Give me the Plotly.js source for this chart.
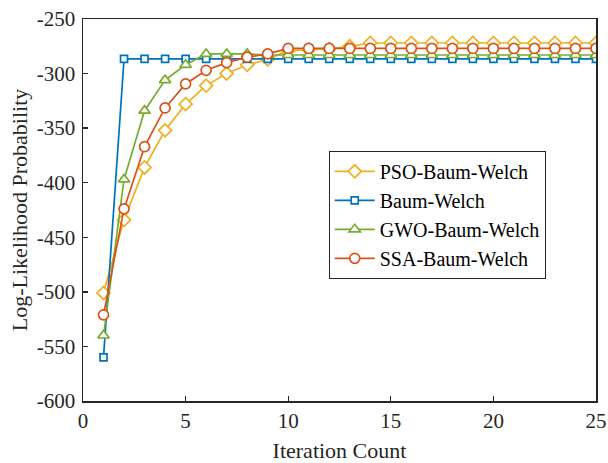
<!DOCTYPE html>
<html>
<head>
<meta charset="utf-8">
<script src="https://cdn.plot.ly/plotly-3.0.1.min.js"></script>
<style>html,body{margin:0;padding:0;background:#fff;}#chart{width:608px;height:463px;}</style>
</head>
<body>
<div id="chart"></div>
<script>
const iterations = [1,2,3,4,5,6,7,8,9,10,11,12,13,14,15,16,17,18,19,20,21,22,23,24,25];
const psoBW = [-501,-434,-386,-352,-328,-311,-300,-292,-287,-279,-278,-277.5,-275,-272,-272,-272,-272,-272,-272,-272,-272,-272,-272,-272,-272];
const baumWelch = [-560,-286.5,-286.5,-286.5,-286.5,-286.5,-286.5,-286.5,-286.5,-286.5,-286.5,-286.5,-286.5,-286.5,-286.5,-286.5,-286.5,-286.5,-286.5,-286.5,-286.5,-286.5,-286.5,-286.5,-286.5];
const gwoBW = [-540,-397,-334,-306,-292,-282,-282,-282,-283,-283,-283,-283,-283,-283,-283,-283,-283,-283,-283,-283,-283,-283,-283,-283,-283];
const ssaBW = [-521,-424,-367,-331.5,-309.5,-297,-290,-285,-282,-277,-277,-277,-277,-277,-277,-277,-277,-277,-277,-277,-277,-277,-277,-277,-277];
const seriesNames = ["PSO-Baum-Welch","Baum-Welch","GWO-Baum-Welch","SSA-Baum-Welch"];
const xTickVals = [0,5,10,15,20,25];
const xTickText = ["0","5","10","15","20","25"];
const yTickVals = [-600,-550,-500,-450,-400,-350,-300,-250];
const yTickText = ["-600","-550","-500","-450","-400","-350","-300","-250"];

const colors = ["#EDB120","#0072BD","#77AC30","#D95319"];
const symbols = ["diamond","square","triangle-up","circle"];
const sizes = [10,7,10,10];
const allY = [psoBW, baumWelch, gwoBW, ssaBW];

const traces = allY.map((ys,i)=>({
  x: iterations, y: ys, name: seriesNames[i], type:'scatter', mode:'lines+markers',
  line:{color:colors[i], width:1.7},
  marker:{symbol:symbols[i], size:sizes[i], color:'#ffffff', line:{color:colors[i], width:1.7}}
}));

const fontFam = 'Liberation Serif';
const layout = {
  width:608, height:463,
  margin:{l:83, r:12, t:19, b:62},
  paper_bgcolor:'#fff', plot_bgcolor:'#fff',
  font:{family:fontFam, size:21, color:'#262626'},
  showlegend:true,
  legend:{x:0.479, y:0.655, xanchor:'left', yanchor:'top', bgcolor:'#fff',
    bordercolor:'#262626', borderwidth:1, font:{family:fontFam, size:20, color:'#000'},
    itemwidth:40, entrywidth:196, entrywidthmode:'pixels'},
  xaxis:{range:[0,25], tickvals:xTickVals, ticktext:xTickText, ticks:'inside', ticklen:5, tickwidth:1.3,
    tickcolor:'#262626', showline:true, linecolor:'#262626', linewidth:1.5, mirror:true,
    showgrid:false, zeroline:false, tickfont:{family:fontFam, size:21},
    title:{text:'Iteration Count', font:{family:fontFam, size:22}, standoff:11}},
  yaxis:{range:[-600,-250], tickvals:yTickVals, ticktext:yTickText, ticks:'inside', ticklen:5, tickwidth:1.3,
    tickcolor:'#262626', showline:true, linecolor:'#262626', linewidth:1.5, mirror:true,
    showgrid:false, zeroline:false, tickfont:{family:fontFam, size:21}, ticklabelstandoff:2,
    title:{text:'Log-Likelihood Probability', font:{family:fontFam, size:22}, standoff:3}}
};
Plotly.newPlot('chart', traces, layout, {displayModeBar:false, staticPlot:true});
</script>
</body>
</html>
